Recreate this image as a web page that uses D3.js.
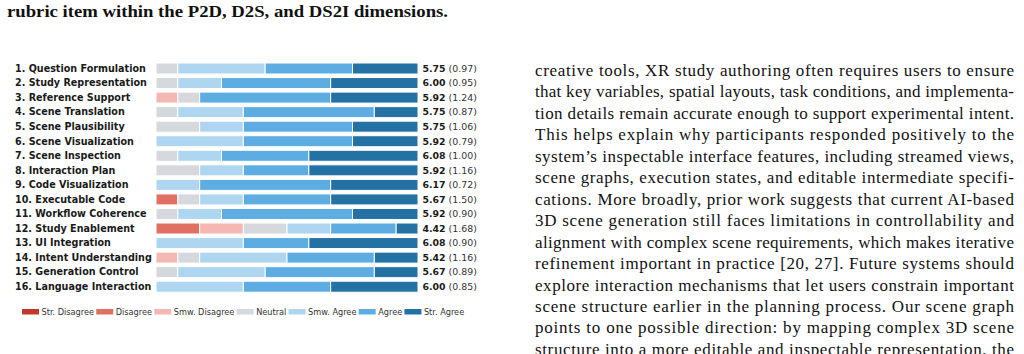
<!DOCTYPE html>
<html>
<head>
<meta charset="utf-8">
<script src="https://cdn.jsdelivr.net/npm/d3@7"></script>
<style>
  html, body { margin: 0; padding: 0; background: #fff; overflow: hidden; }
  svg { display: block; }
</style>
</head>
<body>
<svg id="page" width="1024" height="354"></svg>
<script>
"use strict";

var width = 1024;
var height = 354;

// rubric items
var items = ["1. Question Formulation", "2. Study Representation", "3. Reference Support",
  "4. Scene Translation", "5. Scene Plausibility", "6. Scene Visualization", "7. Scene Inspection",
  "8. Interaction Plan", "9. Code Visualization", "10. Executable Code", "11. Workflow Coherence",
  "12. Study Enablement", "13. UI Integration", "14. Intent Understanding", "15. Generation Control",
  "16. Language Interaction"];

// participant counts per response level (12 participants)
var strDisagree = [0, 0, 0, 0, 0, 0, 0, 0, 0, 0, 0, 0, 0, 0, 0, 0];
var disagree    = [0, 0, 0, 0, 0, 0, 0, 0, 0, 1, 0, 2, 0, 0, 0, 0];
var smwDisagree = [0, 0, 1, 0, 0, 0, 0, 0, 0, 0, 0, 2, 0, 1, 0, 0];
var neutral     = [1, 1, 1, 1, 2, 0, 1, 2, 0, 1, 1, 2, 0, 1, 1, 0];
var smwAgree    = [4, 2, 0, 3, 2, 4, 2, 2, 2, 2, 2, 2, 4, 4, 4, 4];
var agree       = [4, 5, 6, 6, 5, 5, 4, 3, 6, 4, 6, 3, 3, 4, 5, 4];
var strAgree    = [3, 4, 4, 2, 3, 3, 5, 5, 4, 4, 3, 1, 5, 2, 2, 4];

var means = ["5.75", "6.00", "5.92", "5.75", "5.75", "5.92", "6.08", "5.92", "6.17", "5.67", "5.92", "4.42", "6.08", "5.42", "5.67", "6.00"];
var sds   = ["0.97", "0.95", "1.24", "0.87", "1.06", "0.79", "1.00", "1.16", "0.72", "1.50", "0.90", "1.68", "0.90", "1.16", "0.89", "0.85"];

var levels = ["Str. Disagree", "Disagree", "Smw. Disagree", "Neutral", "Smw. Agree", "Agree", "Str. Agree"];
var levelColors = ["#c0392b", "#e07062", "#f5b7b1", "#d5d8dc", "#aed6f1", "#5dade2", "#2471a3"];

var caption = "rubric item within the P2D, D2S, and DS2I dimensions.";

var bodyLines = [
  "creative tools, XR study authoring often requires users to ensure",
  "that key variables, spatial layouts, task conditions, and implementa-",
  "tion details remain accurate enough to support experimental intent.",
  "This helps explain why participants responded positively to the",
  "system\u2019s inspectable interface features, including streamed views,",
  "scene graphs, execution states, and editable intermediate specifi-",
  "cations. More broadly, prior work suggests that current AI-based",
  "3D scene generation still faces limitations in controllability and",
  "alignment with complex scene requirements, which makes iterative",
  "refinement important in practice [20, 27]. Future systems should",
  "explore interaction mechanisms that let users constrain important",
  "scene structure earlier in the planning process. Our scene graph",
  "points to one possible direction: by mapping complex 3D scene",
  "structure into a more editable and inspectable representation, the"
];

var svg = d3.select("#page");

// caption line at the top of the figure
svg.append("text").attr("x", 7).attr("y", 17)
  .style("font-family", "'Liberation Serif', serif").style("font-weight", "bold")
  .style("font-size", "17.5px").attr("fill", "#111")
  .attr("textLength", 441).attr("lengthAdjust", "spacingAndGlyphs")
  .text(caption);

// stacked rows
var series = [strDisagree, disagree, smwDisagree, neutral, smwAgree, agree, strAgree];
var rows = items.map(function (name, i) {
  var row = { name: name };
  levels.forEach(function (lv, j) { row[lv] = series[j][i]; });
  return row;
});
var stacked = d3.stack().keys(levels)(rows);

var x = d3.scaleLinear().domain([0, 12]).range([156, 418]);
var y = d3.scalePoint().domain(items).range([68.5, 286.7]);
var color = d3.scaleOrdinal().domain(levels).range(levelColors);
var barH = 11;

var chart = svg.append("g");

chart.selectAll("g.layer").data(stacked).enter().append("g").attr("class", "layer")
  .attr("fill", function (d) { return color(d.key); })
  .selectAll("rect").data(function (d) { return d; }).enter()
  .filter(function (d) { return d[1] > d[0]; })
  .append("rect")
  .attr("x", function (d) { return x(d[0]); })
  .attr("y", function (d) { return y(d.data.name) - barH / 2; })
  .attr("width", function (d) { return x(d[1]) - x(d[0]); })
  .attr("height", barH)
  .attr("stroke", "#fff").attr("stroke-width", 1);

var labelFont = "'DejaVu Sans', sans-serif";

chart.selectAll("text.item").data(items).enter().append("text").attr("class", "item")
  .attr("x", 15).attr("y", function (d) { return y(d) + 3.3; })
  .style("font-family", labelFont).style("font-weight", "bold").style("font-size", "9.6px")
  .attr("fill", "#1a1a1a")
  .text(function (d) { return d; });

var vals = chart.selectAll("text.val").data(items).enter().append("text").attr("class", "val")
  .attr("x", 422.5).attr("y", function (d) { return y(d) + 3.3; })
  .style("font-family", labelFont).style("font-size", "9.4px").attr("fill", "#1a1a1a");
vals.append("tspan").style("font-weight", "bold").text(function (d, i) { return means[i]; });
vals.append("tspan").attr("fill", "#333").text(function (d, i) { return " (" + sds[i] + ")"; });

// legend
var legend = svg.append("g").attr("transform", "translate(22,309)");
var lx = 0;
levels.forEach(function (lv) {
  legend.append("rect").attr("x", lx).attr("y", 0).attr("width", 17).attr("height", 5.5)
    .attr("fill", color(lv));
  var t = legend.append("text").attr("x", lx + 19.5).attr("y", 6)
    .style("font-family", labelFont).style("font-size", "8.2px").attr("fill", "#333")
    .text(lv);
  lx += 19.5 + t.node().getComputedTextLength() + 2.2;
});

// body text column, justified
svg.append("g").selectAll("text").data(bodyLines).enter().append("text")
  .attr("x", 535).attr("y", function (d, i) { return 76 + i * 21.45; })
  .style("font-family", "'Liberation Serif', serif").style("font-size", "17px")
  .attr("fill", "#111")
  .attr("textLength", 479).attr("lengthAdjust", "spacing")
  .text(function (d) { return d; });
</script>
</body>
</html>
